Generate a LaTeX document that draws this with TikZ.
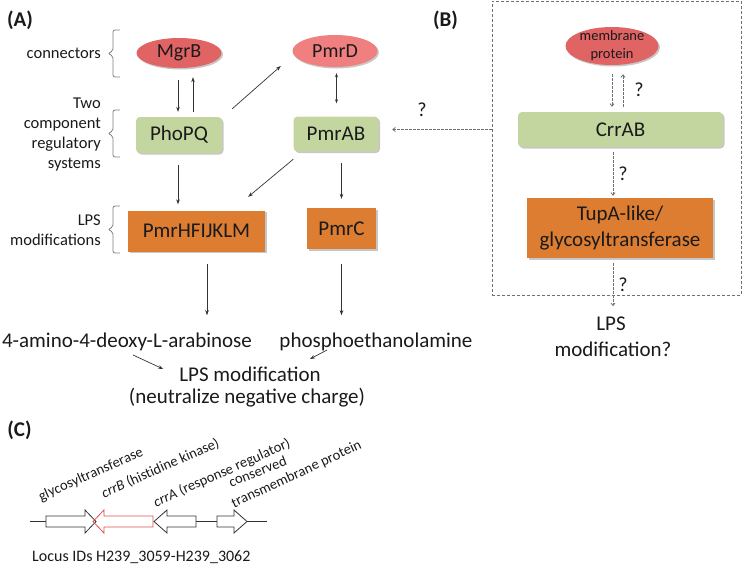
\documentclass[tikz,border=0pt]{standalone}
\usepackage{fontspec}
\setmainfont{Carlito}
\usetikzlibrary{shapes.geometric,arrows.meta,shadows,decorations.text}
\definecolor{redA}{HTML}{E06464}
\definecolor{redB}{HTML}{F08080}
\definecolor{greenbox}{HTML}{C4D6A0}
\definecolor{orangebox}{HTML}{DC7D32}
\definecolor{txt}{HTML}{1A1A1A}
\definecolor{arr}{HTML}{333333}
\definecolor{dgray}{HTML}{707070}
\definecolor{genered}{HTML}{E05050}
\newcommand{\fsz}[2]{\fontsize{#1}{#2}\selectfont}
\newcommand{\gf}{\fontsize{14.5}{17}\selectfont\color{txt}}
\begin{document}
\begin{tikzpicture}[x=1pt,y=-1pt,
  shad/.style={drop shadow={shadow xshift=1.5pt,shadow yshift=-1.5pt,opacity=0.22,fill=black}},
  oval/.style={ellipse, inner sep=0pt, text=txt, font=\fsz{20}{24}, shad},
  greenb/.style={rectangle, rounded corners=4pt, fill=greenbox, inner sep=0pt, font=\fsz{21}{25}, text=txt, shad},
  orangeb/.style={rectangle, fill=orangebox, inner sep=0pt, font=\fsz{21}{26}, text=txt, shad},
  lab/.style={font=\fsz{16.5}{20}, text=txt, align=right, anchor=east, inner sep=0pt},
  big/.style={font=\fsz{21}{25}, text=txt, inner sep=0pt},
  qm/.style={font=\fsz{20}{24}, text=txt, inner sep=0pt},
  arrow/.style={draw=arr, line width=0.7pt, -{Stealth[length=5pt,width=3.6pt]}},
  darrow/.style={draw=dgray, line width=0.8pt, dash pattern=on 2.5pt off 1.5pt, -{Straight Barb[length=2.5pt,width=4pt]}},
  brc/.style={draw=gray, line width=0.8pt, rounded corners=2pt},
  panel/.style={font=\bfseries\fsz{21}{25}, text=txt, inner sep=0pt},
  gene/.style={draw=black!80, line width=0.8pt, fill=white},
  gtext/.style={decorate, decoration={text along path, text align=left, text={#1}}},
]
\useasboundingbox (0,0) rectangle (742,566);

% ---------------- Panel A ----------------
\node[panel] (pA) at (20,20.5) {(A)};

\node[lab] (lconn) at (101,53) {connectors};
\node[lab] (ltcs) at (101,135) {Two\\component\\regulatory\\systems};
\node[lab] (llps) at (101,230) {LPS\\modifications};
\draw[brc] (120,30) -- (113,30) -- (113,51) -- (108,53.5) -- (113,56) -- (113,77) -- (120,77);
\draw[brc] (120,110) -- (113,110) -- (113,131) -- (108,133.5) -- (113,136) -- (113,157) -- (120,157);
\draw[brc] (120,206) -- (113,206) -- (113,227) -- (108,229.5) -- (113,232) -- (113,253) -- (120,253);

\node[oval, fill=redA, minimum width=85, minimum height=30] (mgrb) at (179,53) {MgrB};
\node[oval, fill=redB, minimum width=85, minimum height=32] (pmrd) at (335,51) {PmrD};
\node[greenb, minimum width=86, minimum height=36] (phopq) at (179,135) {PhoPQ};
\node[greenb, minimum width=85, minimum height=35] (pmrab) at (336,134) {PmrAB};
\node[orangeb, minimum width=137, minimum height=41] (pmrhf) at (196.5,231) {PmrHFIJKLM};
\node[orangeb, minimum width=69, minimum height=41] (pmrc) at (341.5,228.5) {PmrC};

\node[big, anchor=base] (amino) at (127,347) {4-amino-4-deoxy-L-arabinose};
\node[big, anchor=base] (phospho) at (376,347) {phosphoethanolamine};
\node[big, anchor=base] (lps1) at (250,381) {LPS modification};
\node[big, anchor=base] (lps2) at (247,403) {(neutralize negative charge)};

% arrows A
\draw[arrow, shorten <=12pt, shorten >=5pt] ([xshift=-1pt]mgrb.south) -- ([xshift=-1pt]phopq.north);
\draw[arrow, shorten <=5pt, shorten >=9pt] ([xshift=14pt]phopq.north) -- ([xshift=14pt]mgrb.south);
\draw[arrow] ([xshift=10pt,yshift=8pt]phopq.north east) -- ([xshift=-11.5pt,yshift=-15pt]pmrd.west);
\draw[draw=arr, line width=0.7pt, {Stealth[length=4pt,width=3pt]}-{Stealth[length=4pt,width=3pt]}, shorten <=6pt, shorten >=13pt] ([xshift=1.5pt]pmrd.south) -- ([xshift=1.5pt]pmrd.south |- pmrab.north);
\draw[arrow, shorten <=12pt, shorten >=6pt] ([xshift=-1pt]phopq.south) -- ([xshift=-1pt]phopq.south |- pmrhf.north);
\draw[arrow] ([yshift=-7.5pt]pmrab.south west) -- ([xshift=-17pt,yshift=13.5pt]pmrhf.north east);
\draw[arrow, shorten <=11.5pt, shorten >=9pt] (pmrc.north |- pmrab.south) -- (pmrc.north);
\draw[arrow, shorten <=12.5pt, shorten >=17pt] ([xshift=10.5pt]pmrhf.south) -- ([xshift=10.5pt]pmrhf.south |- amino.north);
\draw[arrow, shorten <=15pt, shorten >=17pt] (pmrc.south) -- (pmrc.south |- phospho.north);
\draw[arrow] ([xshift=6pt,yshift=-8pt]amino.base) -- ([xshift=-16pt,yshift=12pt]lps1.base west);
\draw[arrow] ([xshift=-49pt,yshift=-3pt]phospho.base) -- ([xshift=60pt,yshift=22pt]lps1.base);

% ---------------- Panel B ----------------
\node[panel] (pB) at (445.5,20.5) {(B)};
\node[draw=dgray, line width=0.9pt, dash pattern=on 3pt off 2pt, minimum width=249, minimum height=294, inner sep=0pt] (boxB) at (616.5,148) {};

\node[oval, fill=redA, minimum width=93, minimum height=38,
  label={[font=\fsz{14.5}{18}, text=txt, align=center, inner sep=0pt]center:membrane\\protein}] (membrane) at (612,46) {};
\node[greenb, minimum width=205, minimum height=35] (crrab) at (620.5,129.5) {CrrAB};
\node[orangeb, minimum width=186, minimum height=60, align=center] (tupa) at (620,228) {TupA-like/\\glycosyltransferase};
\node[big, anchor=base] (lpsq1) at (611,330) {LPS};
\node[big, anchor=base] (lpsq2) at (613,356) {modification?};

\draw[darrow, shorten <=9pt, shorten >=5pt] (membrane.south) -- (membrane.south |- crrab.north);
\draw[darrow, shorten <=5pt, shorten >=9pt] ([xshift=11pt]membrane.south |- crrab.north) -- ([xshift=11pt]membrane.south);
\node[qm] (q1) at (639,90) {?};
\draw[darrow, shorten <=5pt, shorten >=2pt] ([xshift=-7.5pt]crrab.south) -- ([xshift=-7.5pt]crrab.south |- tupa.north);
\node[qm] (q2) at (623,174) {?};
\draw[darrow, shorten <=5pt, shorten >=10pt] ([xshift=-7pt]tupa.south) -- ([xshift=-7pt]tupa.south |- lpsq1.north);
\node[qm] (q3) at (623,285) {?};
\draw[darrow, shorten >=13.5pt] (boxB.west |- crrab.center) -- (pmrab.east |- crrab.center);
\node[qm] (q4) at (422,110) {?};

% ---------------- Panel C ----------------
\node[panel] (pC) at (19.5,430.5) {(C)};
\draw[draw=black!80, line width=0.8pt] (30,521.5) -- (46,521.5) (196,521.5) -- (217,521.5) (247,521.5) -- (267,521.5);
% glycosyltransferase (right)
\draw[gene] (46,516) -- (85,516) -- (85,510) -- (96,521.5) -- (85,533) -- (85,527) -- (46,527) -- cycle;
% crrB (left, red)
\draw[draw=genered, line width=0.8pt] (153,516) -- (104,516) -- (104,510) -- (93,521.5) -- (104,533) -- (104,527) -- (153,527) -- cycle;
% crrA (left)
\draw[gene] (196,516) -- (167,516) -- (167,510) -- (154,521.5) -- (167,533) -- (167,527) -- (196,527) -- cycle;
% conserved transmembrane protein (right)
\draw[gene] (217,516) -- (234,516) -- (234,510) -- (247,521.5) -- (234,533) -- (234,527) -- (217,527) -- cycle;

\path[gtext={|\gf|glycosyltransferase}] (41,501) -- ++(-24:200);
\path[gtext={|\gf\itshape|crrB |\gf\upshape|(histidine kinase)}] (104,498) -- ++(-24:220);
\path[gtext={|\gf\itshape|crrA |\gf\upshape|(response regulator)}] (156,507) -- ++(-24:230);
\path[gtext={|\gf|conserved}] (231,487) -- ++(-21:150);
\path[gtext={|\gf|transmembrane protein}] (234,508) -- ++(-25:220);

\node[font=\fsz{16}{20}, text=txt, anchor=base west, inner sep=0pt] (locus) at (32,561) {Locus IDs H239\_3059-H239\_3062};
\end{tikzpicture}
\end{document}
